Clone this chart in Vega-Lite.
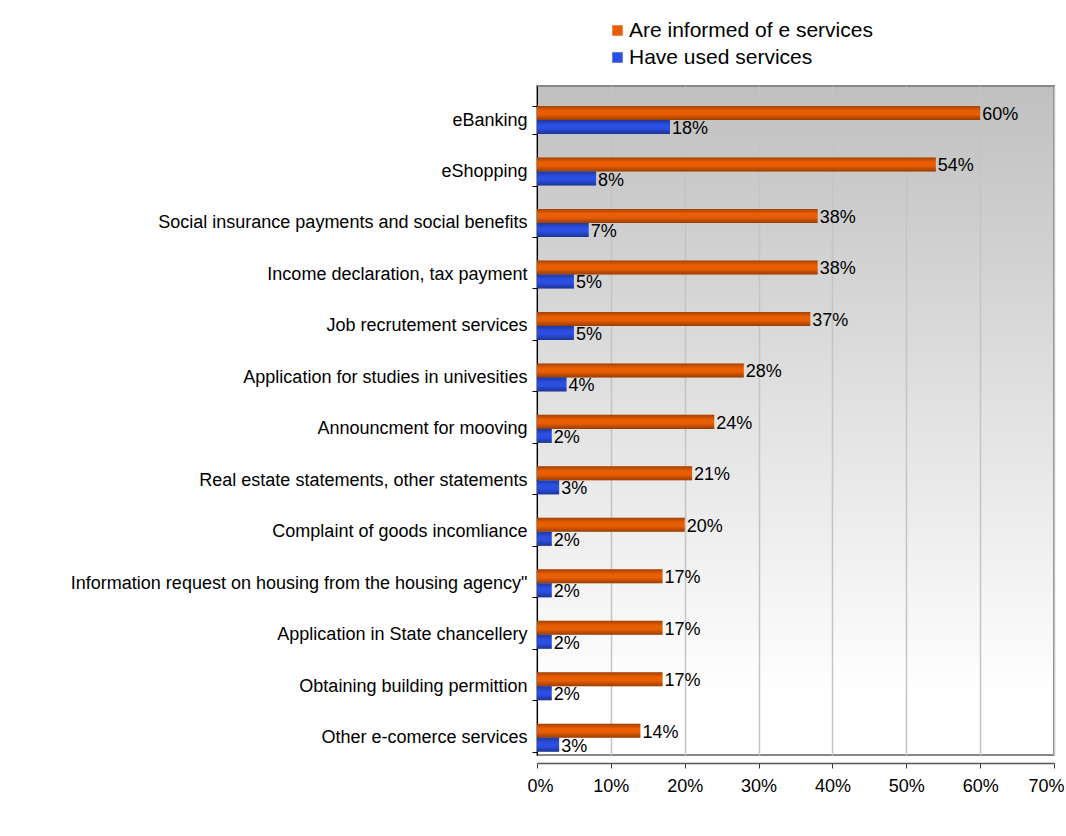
{
  "$schema": "https://vega.github.io/schema/vega-lite/v6.json",
  "width": 517,
  "height": 669,
  "autosize": {"type": "none"},
  "padding": {"left": 537, "top": 86, "right": 12, "bottom": 81},
  "background": "white",
  "view": {
    "fill": {"gradient": "linear", "x1": 0, "y1": 0, "x2": 0, "y2": 1, "stops": [{"offset": 0, "color": "#c0c0c0"}, {"offset": 0.91, "color": "#ffffff"}, {"offset": 1, "color": "#ffffff"}]},
    "stroke": "#888888",
    "strokeWidth": 2
  },
  "config": {"font": "Liberation Sans"},
  "data": {
    "values": [
      {"service": "eBanking", "series": "Are informed of e services", "value": 0.60},
      {"service": "eBanking", "series": "Have used services", "value": 0.18},
      {"service": "eShopping", "series": "Are informed of e services", "value": 0.54},
      {"service": "eShopping", "series": "Have used services", "value": 0.08},
      {"service": "Social insurance payments and social benefits", "series": "Are informed of e services", "value": 0.38},
      {"service": "Social insurance payments and social benefits", "series": "Have used services", "value": 0.07},
      {"service": "Income declaration, tax payment", "series": "Are informed of e services", "value": 0.38},
      {"service": "Income declaration, tax payment", "series": "Have used services", "value": 0.05},
      {"service": "Job recrutement services", "series": "Are informed of e services", "value": 0.37},
      {"service": "Job recrutement services", "series": "Have used services", "value": 0.05},
      {"service": "Application for studies in univesities", "series": "Are informed of e services", "value": 0.28},
      {"service": "Application for studies in univesities", "series": "Have used services", "value": 0.04},
      {"service": "Announcment for mooving", "series": "Are informed of e services", "value": 0.24},
      {"service": "Announcment for mooving", "series": "Have used services", "value": 0.02},
      {"service": "Real estate statements, other statements", "series": "Are informed of e services", "value": 0.21},
      {"service": "Real estate statements, other statements", "series": "Have used services", "value": 0.03},
      {"service": "Complaint of goods incomliance", "series": "Are informed of e services", "value": 0.20},
      {"service": "Complaint of goods incomliance", "series": "Have used services", "value": 0.02},
      {"service": "Information request on housing from the housing agency\"", "series": "Are informed of e services", "value": 0.17},
      {"service": "Information request on housing from the housing agency\"", "series": "Have used services", "value": 0.02},
      {"service": "Application in State chancellery", "series": "Are informed of e services", "value": 0.17},
      {"service": "Application in State chancellery", "series": "Have used services", "value": 0.02},
      {"service": "Obtaining building permittion", "series": "Are informed of e services", "value": 0.17},
      {"service": "Obtaining building permittion", "series": "Have used services", "value": 0.02},
      {"service": "Other e-comerce services", "series": "Are informed of e services", "value": 0.14},
      {"service": "Other e-comerce services", "series": "Have used services", "value": 0.03}
    ]
  },
  "encoding": {
    "y": {
      "field": "service",
      "type": "nominal",
      "sort": null,
      "scale": {"paddingInner": 0.455, "paddingOuter": 0.226, "align": 0.86},
      "axis": {
        "title": null,
        "labelFontSize": 18,
        "labelColor": "#000000",
        "labelLimit": 0,
        "labelPadding": 5,
        "domainColor": "#000000",
        "tickColor": "#000000",
        "tickSize": 5,
        "tickBand": "extent"
      }
    },
    "yOffset": {
      "field": "series",
      "type": "nominal",
      "sort": ["Are informed of e services", "Have used services"],
      "scale": {"paddingInner": 0, "paddingOuter": 0}
    },
    "x": {
      "field": "value",
      "type": "quantitative",
      "scale": {"domain": [0, 0.7], "nice": false},
      "axis": {
        "title": null,
        "format": ".0%",
        "values": [0, 0.1, 0.2, 0.3, 0.4, 0.5, 0.6, 0.7],
        "grid": true,
        "gridColor": "#c4c4c4",
        "gridWidth": 1.5,
        "offset": 8,
        "domainColor": "#555555",
        "domainWidth": 1.5,
        "tickColor": "#333333",
        "tickSize": 5,
        "labelFlush": true,
        "labelFlushOffset": 10,
        "labelFontSize": 18,
        "labelColor": "#000000",
        "labelPadding": 9
      }
    }
  },
  "layer": [
    {
      "mark": {"type": "bar"},
      "encoding": {
        "color": {
          "field": "series",
          "type": "nominal",
          "sort": ["Are informed of e services", "Have used services"],
          "scale": {"range": ["#ea5e02", "#2b4fe2"]},
          "legend": {
            "title": null,
            "orient": "none",
            "legendX": 70,
            "legendY": -66,
            "symbolType": "square",
            "symbolSize": 110,
            "symbolStrokeWidth": 0,
            "labelFontSize": 21,
            "labelLimit": 0,
            "labelColor": "#000000",
            "labelOffset": 1,
            "rowPadding": 5
          }
        }
      }
    },
    {
      "mark": {
        "type": "bar",
        "color": {"gradient": "linear", "x1": 0, "y1": 0, "x2": 0, "y2": 1, "stops": [{"offset": 0, "color": "rgba(0,0,0,0.3)"}, {"offset": 0.35, "color": "rgba(0,0,0,0)"}, {"offset": 0.6, "color": "rgba(0,0,0,0)"}, {"offset": 1, "color": "rgba(0,0,0,0.35)"}]}
      }
    },
    {
      "mark": {"type": "text", "align": "left", "baseline": "middle", "dx": 2, "dy": 2, "fontSize": 18, "color": "#000000"},
      "encoding": {"text": {"field": "value", "type": "quantitative", "format": ".0%"}}
    }
  ]
}
